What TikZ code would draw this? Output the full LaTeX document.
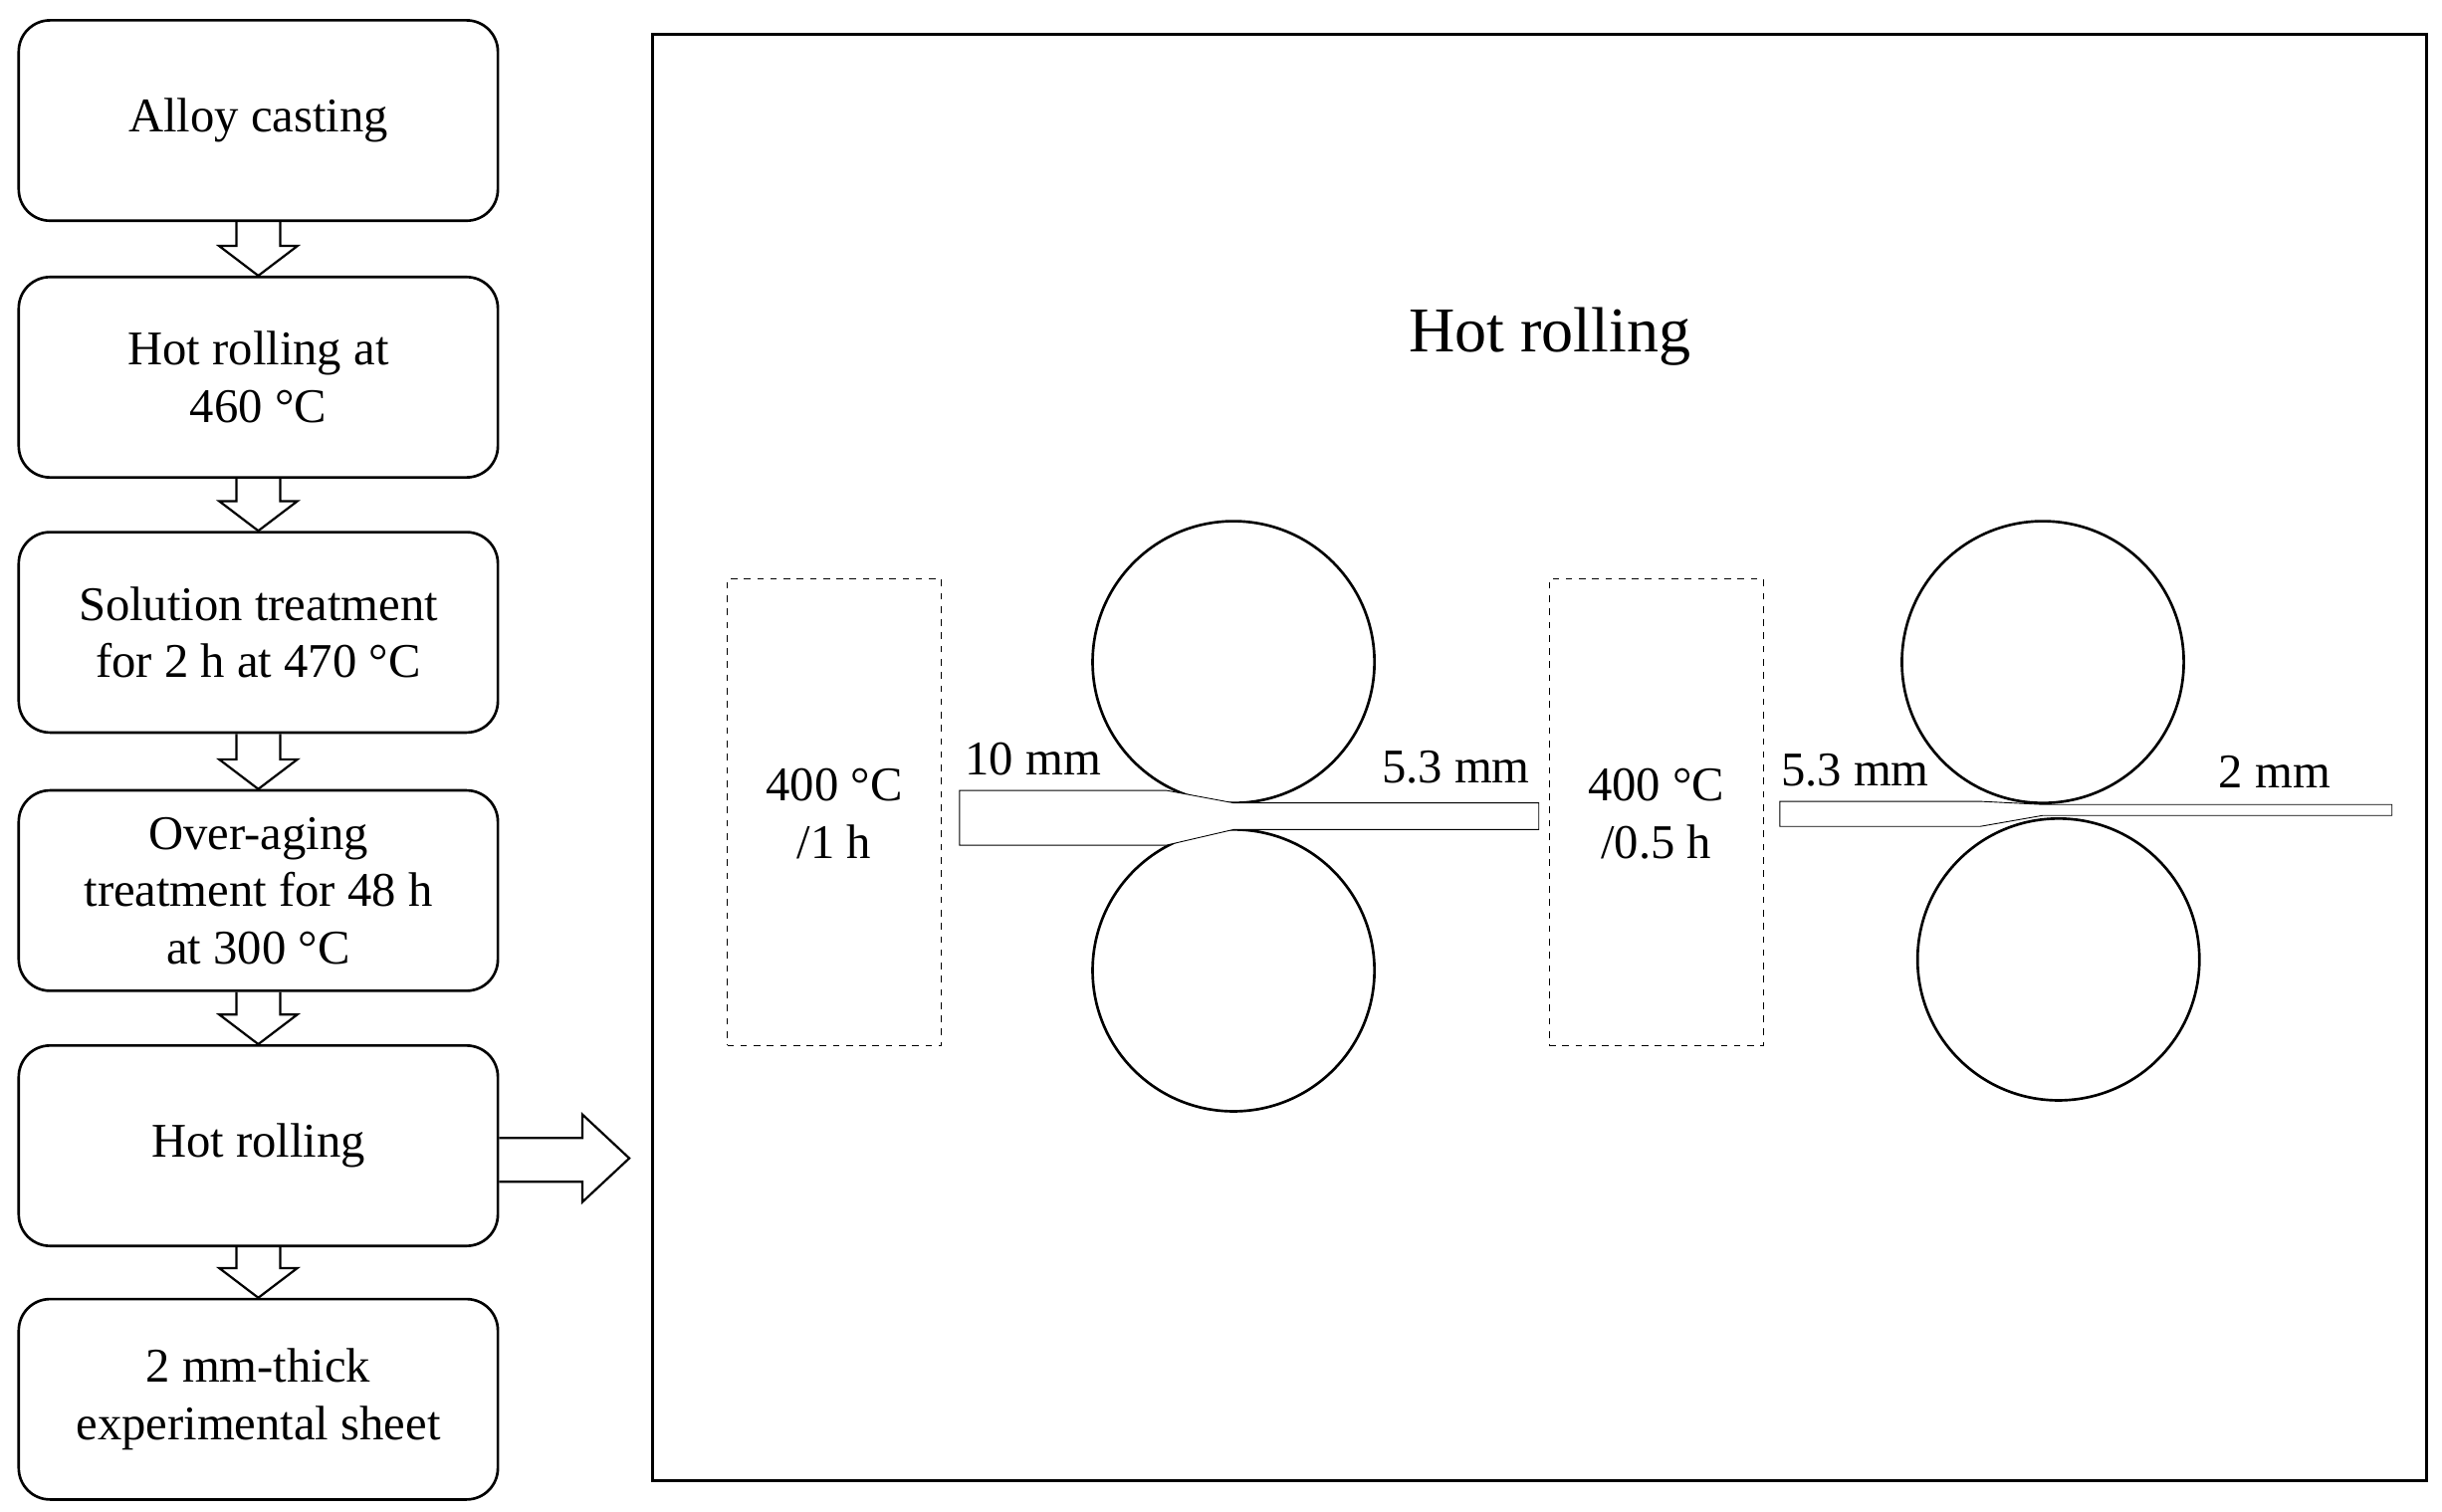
\documentclass[tikz,border=0pt]{standalone}
\usepackage{fontspec}
\setmainfont{Liberation Serif}
\usetikzlibrary{calc,positioning}
\tikzstyle{stage}=[draw,line width=1.2pt,rounded corners=0.5cm,minimum width=7.65cm,minimum height=3.2cm,align=center,font=\fontsize{22}{26}\selectfont]
\tikzstyle{oven}=[draw,dashed,minimum width=3.42cm,minimum height=7.45cm]
\tikzstyle{roll}=[draw,line width=1.2pt,circle,minimum size=4.5cm]
\tikzstyle{lbl}=[font=\fontsize{22}{26}\selectfont,align=center]
\newcommand{\flowarrow}[2]{\draw[line width=1pt] ($(#1.south)+(-14,0)$) -- ($(#2.north)+(-14,-19)$) -- ($(#2.north)+(-25,-19)$) -- (#2.north) -- ($(#2.north)+(25,-19)$) -- ($(#2.north)+(14,-19)$) -- ($(#1.south)+(14,0)$);}

\begin{document}
\begin{tikzpicture}[x=0.025cm,y=-0.025cm]
  \useasboundingbox (0,0) rectangle (1560,966);

  \node [stage] (s1) at (165,77) {Alloy casting};
  \node [stage] (s2) at (165,241) {Hot rolling at\\460 °C};
  \node [stage] (s3) at (165,404) {Solution treatment\\for 2 h at 470 °C};
  \node [stage] (s4) at (165,569) {Over-aging\\treatment for 48 h\\at 300 °C};
  \node [stage] (s5) at (165,732) {Hot rolling};
  \node [stage] (s6) at (165,894) {2 mm-thick\\experimental sheet};

  \flowarrow{s1}{s2}
  \flowarrow{s2}{s3}
  \flowarrow{s3}{s4}
  \flowarrow{s4}{s5}
  \flowarrow{s5}{s6}

  % rolling schedule
  \draw[line width=1.2pt] (417,22) rectangle (1550,946);
  \coordinate (frame) at (402,740);
  \draw[line width=1pt] ($(s5.east)+(0,-5)$) -- (372,727) -- (372,712) -- (frame) -- (372,768) -- (372,755) -- ($(s5.east)+(0,23)$);
  \node [lbl,font=\fontsize{29}{34}\selectfont] (title) at (990,215) {Hot rolling};

  \node [oven] (o1) at (533,519) {};
  \node [oven] (o2) at (1058,519) {};
  \node [roll] (r1) at (788,423) {};
  \node [roll] (r2) at (788,620) {};
  \node [roll] (r3) at (1305,423) {};
  \node [roll] (r4) at (1315,613) {};

  \draw[fill=white] (613,505) -- (745,505) -- (788,513) -- (983,513) -- (983,530) -- (788,530) -- (745,540) -- (613,540) -- cycle;
  \draw[fill=white] (1137,512) -- (1265,512) -- (1305,514) -- (1528,514) -- (1528,521) -- (1305,521) -- (1265,528) -- (1137,528) -- cycle;

  \node [lbl] (t1) at (533,520) {400 °C\\/1 h};
  \node [lbl] (t2) at (1058,520) {400 °C\\/0.5 h};
  \node [lbl] (d1) at (660,485) {10 mm};
  \node [lbl] (d2) at (930,490) {5.3 mm};
  \node [lbl] (d3) at (1185,492) {5.3 mm};
  \node [lbl] (d4) at (1453,493) {2 mm};
\end{tikzpicture}
\end{document}
